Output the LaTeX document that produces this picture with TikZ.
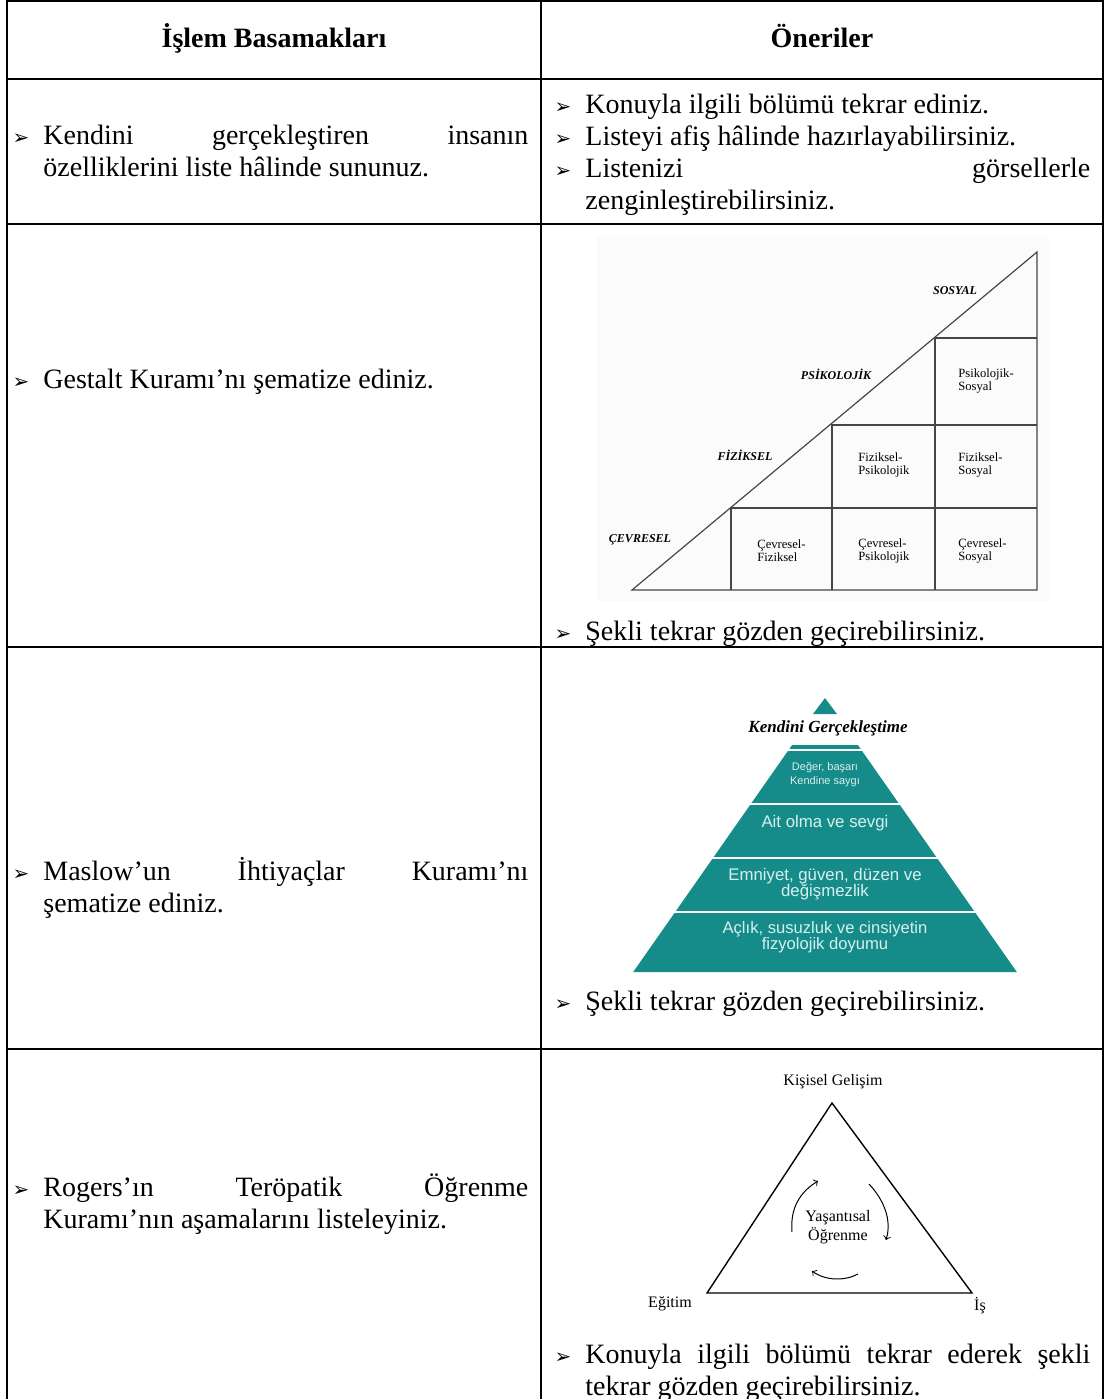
\documentclass[tikz,border=0pt]{standalone}
\usepackage{fontspec}
\setmainfont{Liberation Serif}
\newfontfamily\arialf{Liberation Sans}
\newfontfamily\dejavu{DejaVu Sans}
\usepackage{tikz}

\definecolor{pyrteal}{RGB}{22,140,138}
\definecolor{pyrtext}{RGB}{215,240,238}
\definecolor{gridgray}{RGB}{70,70,70}

\tikzset{
	txt/.style={anchor=base west, inner sep=0pt, font=\fontsize{14}{16.1}\selectfont},
	jtxt/.style={txt, text width=#1, align=left},
	hdr/.style={anchor=base, inner sep=0pt, font=\fontsize{14}{16.1}\selectfont\bfseries},
	bul/.style={anchor=base, inner sep=0pt, font=\dejavu\fontsize{10}{11}\selectfont},
	rule/.style={line width=1pt},
	axl/.style={inner sep=0pt, font=\fontsize{6}{7}\selectfont\bfseries\itshape},
	cellt/.style={anchor=west, inner sep=0pt, align=left, font=\fontsize{6.3}{6.5}\selectfont},
	band/.style={inner sep=0pt, align=center, text=pyrtext},
	rog/.style={inner sep=0pt, align=center, font=\fontsize{8}{9.5}\selectfont}
}

\begin{document}
\begin{tikzpicture}[x=0.5pt, y=-0.5pt]
	\useasboundingbox (0,0) rectangle (1108,1399);

	% table rules
	\draw[rule] (7,1) -- (1103,1);
	\draw[rule] (7,0) -- (7,1399);
	\draw[rule] (541,0) -- (541,1399);
	\draw[rule] (1103,0) -- (1103,1399);
	\foreach \yy in {79,224,647,1049}
		\draw[rule] (7,\yy) -- (1103,\yy);

	% header
	\node [hdr] (islem) at (274,47) {İşlem Basamakları};
	\node [hdr] (oneriler) at (822,47) {Öneriler};

	% row 1
	\node [bul] (b1) at (21,144) {➢};
	\node [jtxt=242.5pt] (kendini) at (43,144) {Kendini\hfill gerçekleştiren\hfill insanın};
	\node [txt] (ozellik) at (43,176.2) {özelliklerini liste hâlinde sununuz.};
	\node [bul] (b2) at (563,113) {➢};
	\node [txt] (konu1) at (585,113) {Konuyla ilgili bölümü tekrar ediniz.};
	\node [bul] (b3) at (563,145.2) {➢};
	\node [txt] (listeyi) at (585,145.2) {Listeyi afiş hâlinde hazırlayabilirsiniz.};
	\node [bul] (b4) at (563,177.4) {➢};
	\node [jtxt=252.5pt] (listenizi) at (585,177.4) {Listenizi\hfill görsellerle};
	\node [txt] (zengin) at (585,209.6) {zenginleştirebilirsiniz.};

	% row 2
	\node [bul] (b5) at (21,388) {➢};
	\node [txt] (gestalt) at (43,388) {Gestalt Kuramı’nı şematize ediniz.};
	\fill[black!1.5] (597,237) rectangle (1050,602);
	\coordinate (g0) at (632,590);
	\coordinate (g1) at (1037,590);
	\coordinate (gt) at (1037,252);
	\draw[gridgray, line width=0.6pt] (g0) -- (g1) -- (gt) -- cycle;
	\draw[gridgray, line width=0.6pt] (731,590) -- (731,508) -- (1037,508)
		(832,590) -- (832,425) -- (1037,425)
		(935,590) -- (935,338) -- (1037,338);
	\node [axl] (cevresel) at (640,540) {ÇEVRESEL};
	\node [axl] (fiziksel) at (745,455) {FİZİKSEL};
	\node [axl] (psikolojik) at (836,374) {PSİKOLOJİK};
	\node [axl] (sosyal) at (955,291) {SOSYAL};
	\node [cellt] (cf) at (757,551) {Çevresel-\\Fiziksel};
	\node [cellt] (cp) at (858,551) {Çevresel-\\Psikolojik};
	\node [cellt] (cs) at (958,551) {Çevresel-\\Sosyal};
	\node [cellt] (fp) at (858,465) {Fiziksel-\\Psikolojik};
	\node [cellt] (fs) at (958,465) {Fiziksel-\\Sosyal};
	\node [cellt] (ps) at (958,381) {Psikolojik-\\Sosyal};
	\node [bul] (b6) at (563,640) {➢};
	\node [txt] (sekli1) at (585,640) {Şekli tekrar gözden geçirebilirsiniz.};

	% row 3
	\node [bul] (b7) at (21,880) {➢};
	\node [jtxt=242.5pt] (maslow) at (43,880) {Maslow’un\hfill İhtiyaçlar\hfill Kuramı’nı};
	\node [txt] (sematize) at (43,912.2) {şematize ediniz.};
	\fill[pyrteal] (825,698) -- (837,714) -- (813,714) -- cycle;
	\fill[pyrteal] (792.1,745) -- (857.9,745) -- (1016.8,972) -- (633.2,972) -- cycle;
	\draw[white, line width=0.8pt] (786,750) -- (864,750)
		(748,804) -- (902,804)
		(710,858) -- (940,858)
		(672,912) -- (978,912);
	\node [inner sep=0pt, font=\fontsize{8.5}{9}\selectfont\bfseries\itshape] (kendiger) at (828,728) {Kendini Gerçekleştime};
	\node [band, font=\arialf\fontsize{5.5}{7}\selectfont] (deger) at (825,775) {Değer, başarı\\Kendine saygı};
	\node [band, font=\arialf\fontsize{8.4}{9}\selectfont] (ait) at (825,823) {Ait olma ve sevgi};
	\node [band, font=\arialf\fontsize{8.4}{8}\selectfont] (emniyet) at (825,884.5) {Emniyet, güven, düzen ve\\değişmezlik};
	\node [band, font=\arialf\fontsize{8.3}{8}\selectfont] (aclik) at (825,937.5) {Açlık, susuzluk ve cinsiyetin\\fizyolojik doyumu};
	\node [bul] (b8) at (563,1010) {➢};
	\node [txt] (sekli2) at (585,1010) {Şekli tekrar gözden geçirebilirsiniz.};

	% row 4
	\node [bul] (b9) at (21,1196) {➢};
	\node [jtxt=242.5pt] (rogers) at (43,1196) {Rogers’ın\hfill Teröpatik\hfill Öğrenme};
	\node [txt] (asama) at (43,1228.2) {Kuramı’nın aşamalarını listeleyiniz.};
	\coordinate (kg) at (832,1103);
	\coordinate (eg) at (707,1293);
	\coordinate (is) at (972,1293);
	\draw[line width=0.7pt] (kg) -- (is) -- (eg) -- cycle;
	\node [rog] (kisisel) at (833,1082) {Kişisel Gelişim};
	\node [rog] (egitim) at (670,1304) {Eğitim};
	\node [rog] (isl) at (980,1306) {İş};
	\node [rog] (yasant) at (838,1227) {Yaşantısal\\Öğrenme};
	\draw[->, line width=0.5pt] (792,1232) .. controls (790,1208) and (800,1192) .. (818,1181);
	\draw[->, line width=0.5pt] (869,1184) .. controls (884,1200) and (892,1220) .. (886,1240);
	\draw[->, line width=0.5pt] (858,1274) .. controls (845,1281) and (826,1281) .. (812,1271);
	\node [bul] (b10) at (563,1363) {➢};
	\node [jtxt=252.5pt] (konu2) at (585,1363) {Konuyla\hfill ilgili\hfill bölümü\hfill tekrar\hfill ederek\hfill şekli};
	\node [txt] (tekrar) at (585,1395.2) {tekrar gözden geçirebilirsiniz.};
\end{tikzpicture}
\end{document}
